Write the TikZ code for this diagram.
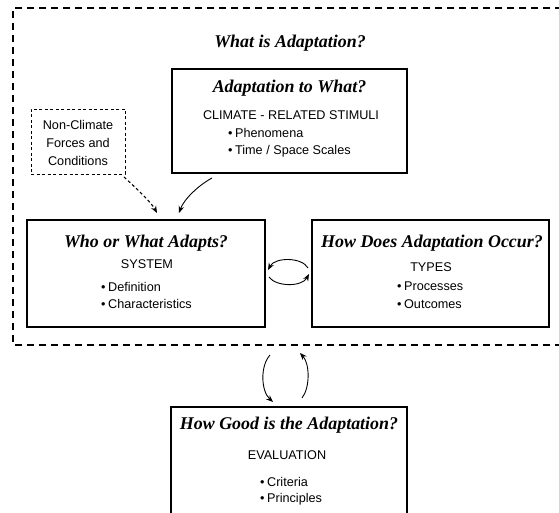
\documentclass[tikz,border=0pt]{standalone}
\usepackage{fontspec}
\setmainfont{Liberation Serif}
\newfontfamily\sansf{Liberation Sans}
\usetikzlibrary{arrows.meta}
\tikzset{
  box/.style={draw=black, line width=1.1bp, inner sep=0pt},
  ttl/.style={font=\bfseries\itshape\fontsize{18}{20}\selectfont, inner sep=0pt, anchor=center},
  stxt/.style={font=\sansf\fontsize{12.7}{14}\selectfont, inner sep=0pt, anchor=center},
  btxt/.style={font=\sansf\fontsize{12.7}{14}\selectfont, inner sep=0pt, anchor=west},
  outerdash/.style={line width=1.3bp, dash pattern=on 7bp off 5bp},
  ncbox/.style={draw=black, line width=0.8bp, dash pattern=on 3bp off 2.5bp, inner sep=0pt},
  arr/.style={line width=0.9bp, -{Stealth[length=7bp,width=5.5bp]}},
  darr/.style={line width=1.1bp, dash pattern=on 3bp off 2.5bp, -{Stealth[length=7bp,width=5.5bp]}}
}
\newcommand{\bul}{\textbullet\hspace{2.5bp}}
\begin{document}
\begin{tikzpicture}[x=1bp, y=-1bp]
\useasboundingbox (0,0) rectangle (559,513);
\fill[white] (0,0) rectangle (559,513);

% outer dashed frame (open to the right)
\coordinate (o1) at (562,8);
\coordinate (o2) at (13,8);
\coordinate (o3) at (13,345);
\coordinate (o4) at (562,345);
\draw[outerdash] (o1) -- (o2) -- (o3) -- (o4);

\node[ttl] (whatis) at (290,43) {What is Adaptation?};

% top box
\node[box, minimum width=235bp, minimum height=104bp] (topbox) at (289.5,121) {};
\node[ttl] (toptitle) at (289.5,88) {Adaptation to What?};
\node[stxt] (climate) at (291,115) {CLIMATE - RELATED STIMULI};
\node[btxt] (phen) at (228,133) {\bul Phenomena};
\node[btxt] (tss) at (228,151) {\bul Time / Space Scales};

% non-climate box
\node[ncbox, minimum width=94bp, minimum height=65bp] (ncb) at (78,141.5) {};
\node[stxt] (nc1) at (78,125) {Non-Climate};
\node[stxt] (nc2) at (78,143) {Forces and};
\node[stxt] (nc3) at (78,161) {Conditions};

% left box
\node[box, minimum width=238bp, minimum height=107bp] (leftbox) at (146,273.5) {};
\node[ttl] (lefttitle) at (146,243) {Who or What Adapts?};
\node[stxt] (system) at (147,264) {SYSTEM};
\node[btxt] (defn) at (101,287) {\bul Definition};
\node[btxt] (chars) at (101,304) {\bul Characteristics};

% right box
\node[box, minimum width=237bp, minimum height=107bp] (rightbox) at (430.5,273.5) {};
\node[ttl] (righttitle) at (432,243) {How Does Adaptation Occur?};
\node[stxt] (types) at (431,267) {TYPES};
\node[btxt] (proc) at (397,286) {\bul Processes};
\node[btxt] (outc) at (397,304) {\bul Outcomes};

% bottom box (runs off the bottom edge)
\node[box, minimum width=236bp, minimum height=120bp] (botbox) at (289,467) {};
\node[ttl] (bottitle) at (289,425) {How Good is the Adaptation?};
\node[stxt] (evaluation) at (287,455) {EVALUATION};
\node[btxt] (crit) at (260,482) {\bul Criteria};
\node[btxt] (princ) at (260,499) {\bul Principles};

% connectors
\coordinate (s1) at (212,178);
\coordinate (e1) at (179,213);
\draw[arr] (s1) .. controls (199,185) and (184,199) .. (e1);

\coordinate (s2) at (124,177);
\coordinate (e2) at (157,213);
\draw[darr] (s2) .. controls (134,186) and (151,202) .. (e2);

\coordinate (s3) at (308,268);
\coordinate (e3) at (268,270);
\draw[arr] (s3) .. controls (302,257) and (275,257) .. (e3);

\coordinate (s4) at (269,277);
\coordinate (e4) at (309,274);
\draw[arr] (s4) .. controls (276,287) and (302,287) .. (e4);

\coordinate (s5) at (270,355);
\coordinate (e5) at (273,402);
\draw[arr] (s5) .. controls (260,366) and (261,391) .. (e5);

\coordinate (s6) at (302,398);
\coordinate (e6) at (300,353);
\draw[arr] (s6) .. controls (310,388) and (310,364) .. (e6);
\end{tikzpicture}
\end{document}
